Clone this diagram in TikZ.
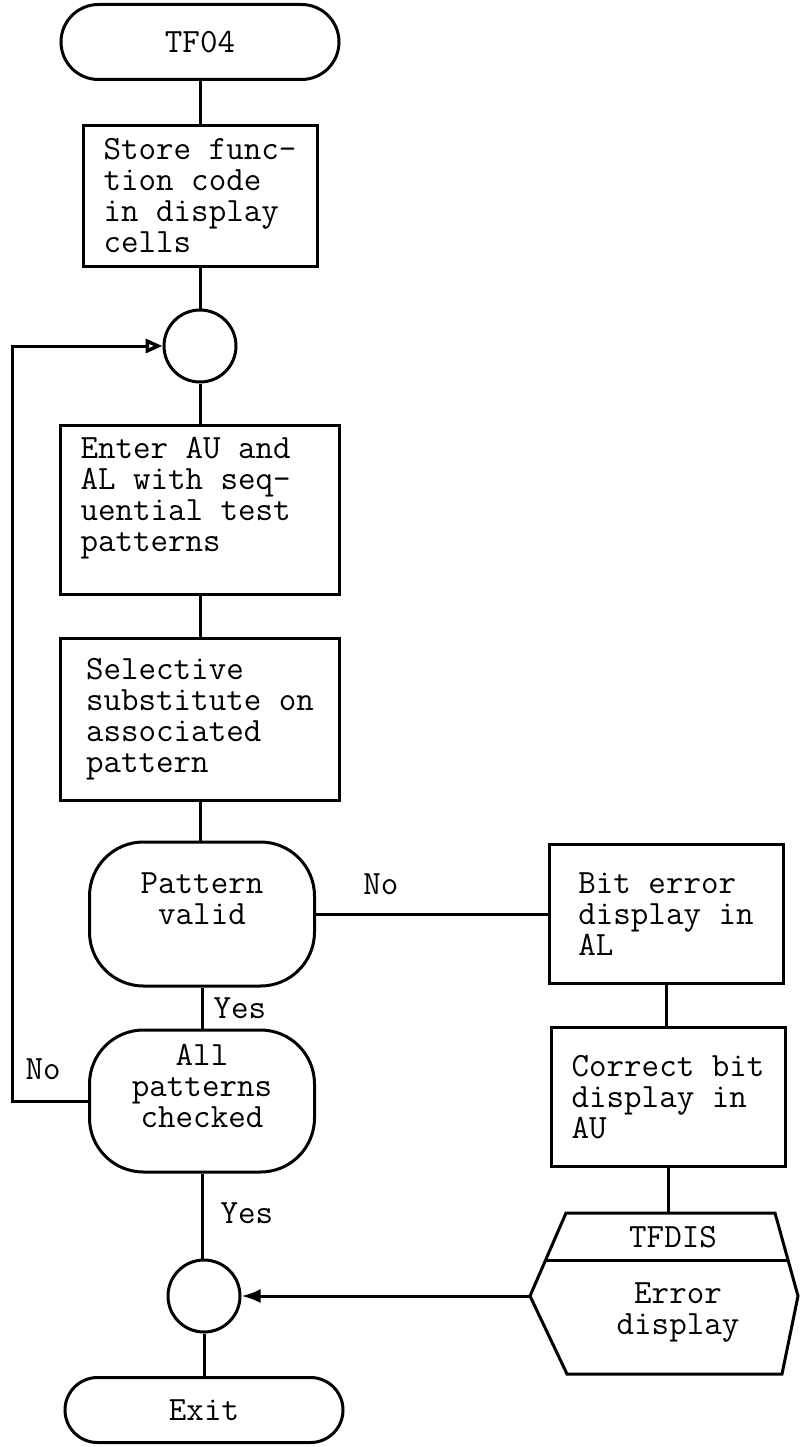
\documentclass[tikz,border=0pt]{standalone}
\usepackage{fontspec}
\usepackage{tikz}
\usetikzlibrary{arrows.meta,positioning,shapes.misc,calc}
\tikzset{
  termbox/.style={draw,rounded rectangle,line width=3pt,
                  minimum width=278pt,minimum height=75pt,inner sep=0pt},
  procbox/.style={draw,rectangle,line width=3pt,
                  minimum width=234pt,align=left,inner sep=12pt},
  testbox/.style={draw,rectangle,rounded corners=54pt,line width=3pt,
                  minimum width=225pt,minimum height=144pt,align=center,inner sep=6pt},
  joint/.style={draw,circle,line width=3pt,minimum size=72pt,inner sep=0pt},
  lbl/.style={inner sep=3pt},
  flowline/.style={line width=3pt},
  flowarr/.style={-{Latex[length=19pt,width=14pt]},line width=3pt},
  looparr/.style={-{Triangle[open,length=17pt,width=14pt,line width=3.5pt]},line width=3pt}
}

\begin{document}
\begin{tikzpicture}[x=1pt,y=-1pt,font=\ttfamily\fontsize{34}{31}\selectfont]
  \useasboundingbox (0,0) rectangle (801,1447);

  % main column
  \node[termbox] (start) at (200,42) {TF04};
  \node[procbox,minimum height=141pt] (store) at (200,196)
    {Store func-\\tion code\\in display\\cells};
  \node[joint] (join1) at (200,346) {};
  \node[procbox,minimum width=279pt,minimum height=164pt,text width=239pt,align=flush left] (enter) at (200,510)
    {Enter AU and\\AL with seq-\\uential test\\patterns\\ \mbox{}};
  \node[procbox,minimum width=279pt,minimum height=162pt] (select) at (200,719)
    {Selective\\substitute on\\associated\\pattern};
  \node[testbox] (valid) at (202,914) {Pattern\\valid\\ \mbox{}};
  \node[testbox,minimum height=142pt] (allchk) at (202,1101) {All\\patterns\\checked\\ \mbox{}};
  \node[joint] (join2) at (204,1296) {};
  \node[termbox,minimum height=65pt] (exit) at (204,1410) {Exit};

  % error branch
  \node[procbox,minimum height=139pt] (biterr) at (666,914) {Bit error\\display in\\AL};
  \node[procbox,minimum height=139pt] (corbit) at (668,1097) {Correct bit\\display in\\AU};

  \coordinate (hexW) at (530,1296);
  \coordinate (hexN) at (668,1213);
  \draw[flowline,line join=miter] (hexW) -- (566,1213) -- (775,1213) -- (798,1296)
    -- (782,1374) -- (567,1374) -- cycle;
  \draw[flowline] (546,1260) -- (789,1260);
  \node (hexname) at (673,1237) {TFDIS};
  \node[align=center] (hexbody) at (678,1312) {Error\\display};

  % connectors
  \draw[flowline] (start) -- (store);
  \draw[flowline] (store) -- (join1);
  \draw[flowline] (join1) -- (enter);
  \draw[flowline] (enter) -- (select);
  \draw[flowline] (select) -- (select |- valid.north);
  \draw[flowline] (valid) -- node[lbl,pos=0.28,above=15pt] {No} (biterr);
  \draw[flowline] (valid) -- node[lbl,right=7pt] {Yes} (allchk);
  \draw[flowline] (allchk) -- node[lbl,pos=0.47,right=14pt] {Yes} (allchk |- join2.north);
  \draw[flowline] (join2) -- (exit);
  \draw[flowline] (biterr) -- (biterr |- corbit.north);
  \draw[flowline] (corbit) -- (hexN);
  \draw[flowarr] (hexW) -- (join2);

  \coordinate (loopc) at (12,1101);
  \draw[looparr] (allchk) -- node[lbl,pos=0.59,above=17pt] {No} (loopc) |- (join1);
\end{tikzpicture}
\end{document}
